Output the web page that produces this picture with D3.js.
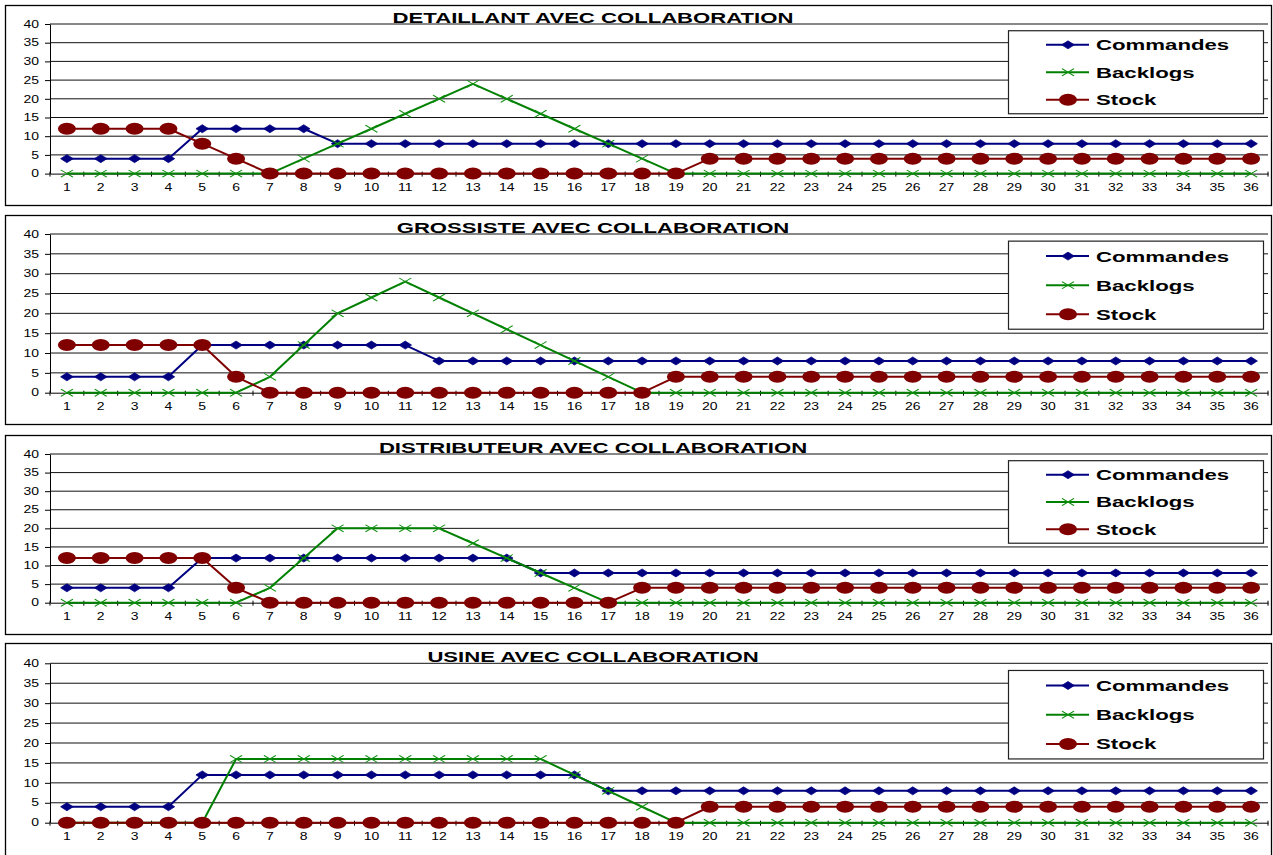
<!DOCTYPE html>
<html>
<head>
<meta charset="utf-8">
<script src="https://cdn.jsdelivr.net/npm/d3@7"></script>
<style>
  body { margin: 0; background: #fff; }
  svg { display: block; }
  text { font-family: "Liberation Sans", Arial, sans-serif; fill: #000; }
</style>
</head>
<body>
<svg id="chart" width="1273" height="855"></svg>
<script>
// Periods (x categories) and value ticks
const periods = [1,2,3,4,5,6,7,8,9,10,11,12,13,14,15,16,17,18,19,20,21,22,23,24,25,26,27,28,29,30,31,32,33,34,35,36];
const valueTicks = [0,5,10,15,20,25,30,35,40];
const seriesNames = ["Commandes", "Backlogs", "Stock"];
const panelTitles = ["DETAILLANT AVEC COLLABORATION", "GROSSISTE AVEC COLLABORATION",
                     "DISTRIBUTEUR AVEC COLLABORATION", "USINE AVEC COLLABORATION"];

// Détaillant
const detaillantCommandes = [4,4,4,4,12,12,12,12,8,8,8,8,8,8,8,8,8,8,8,8,8,8,8,8,8,8,8,8,8,8,8,8,8,8,8,8];
const detaillantBacklogs  = [0,0,0,0,0,0,0,4,8,12,16,20,24,20,16,12,8,4,0,0,0,0,0,0,0,0,0,0,0,0,0,0,0,0,0,0];
const detaillantStock     = [12,12,12,12,8,4,0,0,0,0,0,0,0,0,0,0,0,0,0,4,4,4,4,4,4,4,4,4,4,4,4,4,4,4,4,4];

// Grossiste
const grossisteCommandes = [4,4,4,4,12,12,12,12,12,12,12,8,8,8,8,8,8,8,8,8,8,8,8,8,8,8,8,8,8,8,8,8,8,8,8,8];
const grossisteBacklogs  = [0,0,0,0,0,0,4,12,20,24,28,24,20,16,12,8,4,0,0,0,0,0,0,0,0,0,0,0,0,0,0,0,0,0,0,0];
const grossisteStock     = [12,12,12,12,12,4,0,0,0,0,0,0,0,0,0,0,0,0,4,4,4,4,4,4,4,4,4,4,4,4,4,4,4,4,4,4];

// Distributeur
const distributeurCommandes = [4,4,4,4,12,12,12,12,12,12,12,12,12,12,8,8,8,8,8,8,8,8,8,8,8,8,8,8,8,8,8,8,8,8,8,8];
const distributeurBacklogs  = [0,0,0,0,0,0,4,12,20,20,20,20,16,12,8,4,0,0,0,0,0,0,0,0,0,0,0,0,0,0,0,0,0,0,0,0];
const distributeurStock     = [12,12,12,12,12,4,0,0,0,0,0,0,0,0,0,0,0,4,4,4,4,4,4,4,4,4,4,4,4,4,4,4,4,4,4,4];

// Usine
const usineCommandes = [4,4,4,4,12,12,12,12,12,12,12,12,12,12,12,12,8,8,8,8,8,8,8,8,8,8,8,8,8,8,8,8,8,8,8,8];
const usineBacklogs  = [0,0,0,0,0,16,16,16,16,16,16,16,16,16,16,12,8,4,0,0,0,0,0,0,0,0,0,0,0,0,0,0,0,0,0,0];
const usineStock     = [0,0,0,0,0,0,0,0,0,0,0,0,0,0,0,0,0,0,0,4,4,4,4,4,4,4,4,4,4,4,4,4,4,4,4,4];

const panelSeries = [
  [detaillantCommandes, detaillantBacklogs, detaillantStock],
  [grossisteCommandes, grossisteBacklogs, grossisteStock],
  [distributeurCommandes, distributeurBacklogs, distributeurStock],
  [usineCommandes, usineBacklogs, usineStock]
];

// ---- layout & style ----
const frames = [
  { top: 5,   bottom: 205, plotTop: 24,    plotZero: 173.6 },
  { top: 215, bottom: 424, plotTop: 234,   plotZero: 392.7 },
  { top: 435, bottom: 634, plotTop: 454,   plotZero: 602.7 },
  { top: 643, bottom: 860, plotTop: 663.3, plotZero: 822.7 }
];
const plotLeft = 50, plotRight = 1268;
const colors = ["#000080", "#008000", "#800000"];
const SX_TICK = 1.4, SX_TITLE = 1.58, SX_LEGEND = 1.48, SX_MARK = 1.5;

const svg = d3.select("#chart");
const x = d3.scaleBand().domain(periods).range([plotLeft, plotRight]);
const cx = p => x(p) + x.bandwidth() / 2;

function drawMarker(sel, k) {
  if (k === 0) {
    sel.append("path").attr("d", "M0,-4L4.2,0L0,4L-4.2,0Z").attr("fill", colors[0]).attr("stroke", colors[0]).attr("stroke-width", 0.6);
  } else if (k === 1) {
    sel.append("path").attr("d", "M-4,-3.6L4,3.6M-4,3.6L4,-3.6").attr("fill", "none").attr("stroke", "#109010").attr("stroke-width", 0.9);
  } else {
    sel.append("circle").attr("r", 6).attr("fill", colors[2]);
  }
}

frames.forEach((f, i) => {
  const g = svg.append("g");
  const y = d3.scaleLinear().domain([0, 40]).range([f.plotZero, f.plotTop]);

  // chart frame
  g.append("rect")
    .attr("x", 5.5).attr("y", f.top + 0.5)
    .attr("width", 1266).attr("height", f.bottom - f.top)
    .attr("fill", "#fff").attr("stroke", "#000").attr("stroke-width", 1.3);

  // horizontal gridlines
  g.append("g").selectAll("line").data(valueTicks.filter(v => v > 0)).join("line")
    .attr("x1", plotLeft).attr("x2", plotRight)
    .attr("y1", d => y(d)).attr("y2", d => y(d))
    .attr("stroke", "#111").attr("stroke-width", 1);

  // value axis
  const ya = g.append("g").attr("transform", `translate(${plotLeft},0)`)
    .call(d3.axisLeft(y).tickValues(valueTicks).tickSizeInner(5).tickSizeOuter(0));
  ya.select(".domain").attr("stroke", "#000");
  ya.selectAll(".tick line").attr("stroke", "#000");
  ya.selectAll(".tick text")
    .attr("x", -11 / SX_TICK).attr("transform", `scale(${SX_TICK},1)`)
    .attr("font-size", 10).attr("font-family", null);

  // category axis
  const xa = g.append("g").attr("transform", `translate(0,${f.plotZero})`)
    .call(d3.axisBottom(x).tickSizeInner(0).tickSizeOuter(0));
  xa.select(".domain").attr("stroke", "#000");
  xa.selectAll(".tick text")
    .attr("y", 10).attr("transform", `scale(${SX_TICK},1)`)
    .attr("font-size", 10).attr("font-family", null);
  g.append("g").selectAll("line").data(periods.map(p => x(p)).concat([plotRight])).join("line")
    .attr("x1", d => d).attr("x2", d => d)
    .attr("y1", f.plotZero - 2).attr("y2", f.plotZero + 3)
    .attr("stroke", "#000").attr("stroke-width", 1);

  // series
  const line = d3.line().x((d, j) => cx(periods[j])).y(d => y(d));
  panelSeries[i].forEach((vals, k) => {
    g.append("path").datum(vals).attr("d", line)
      .attr("fill", "none").attr("stroke", colors[k]).attr("stroke-width", 2)
      .attr("stroke-linejoin", "round");
    g.append("g").selectAll("g").data(vals).join("g")
      .attr("transform", (d, j) => `translate(${cx(periods[j])},${y(d)}) scale(${SX_MARK},1)`)
      .each(function () { drawMarker(d3.select(this), k); });
  });

  // title
  g.append("text")
    .attr("transform", `translate(593,${f.plotTop - 1.5}) scale(${SX_TITLE},1)`)
    .attr("text-anchor", "middle").attr("font-size", 14).attr("font-weight", "bold")
    .text(panelTitles[i]);

  // legend
  const h = f.plotZero - f.plotTop;
  const boxTop = f.plotTop + 0.045 * h, boxH = 0.555 * h;
  const lg = g.append("g");
  lg.append("rect").attr("x", 1008.5).attr("y", boxTop).attr("width", 255).attr("height", boxH)
    .attr("fill", "#fff").attr("stroke", "#222").attr("stroke-width", 1.2);
  seriesNames.forEach((name, k) => {
    const ry = boxTop + [0.17, 0.5, 0.83][k] * boxH;
    lg.append("line").attr("x1", 1046).attr("x2", 1089).attr("y1", ry).attr("y2", ry)
      .attr("stroke", colors[k]).attr("stroke-width", 2);
    drawMarker(lg.append("g").attr("transform", `translate(1068,${ry}) scale(${SX_MARK},1)`), k);
    lg.append("text")
      .attr("transform", `translate(1096,${ry + 5.5}) scale(${SX_LEGEND},1)`)
      .attr("font-size", 15).attr("font-weight", "bold")
      .text(name);
  });
});
</script>
</body>
</html>
